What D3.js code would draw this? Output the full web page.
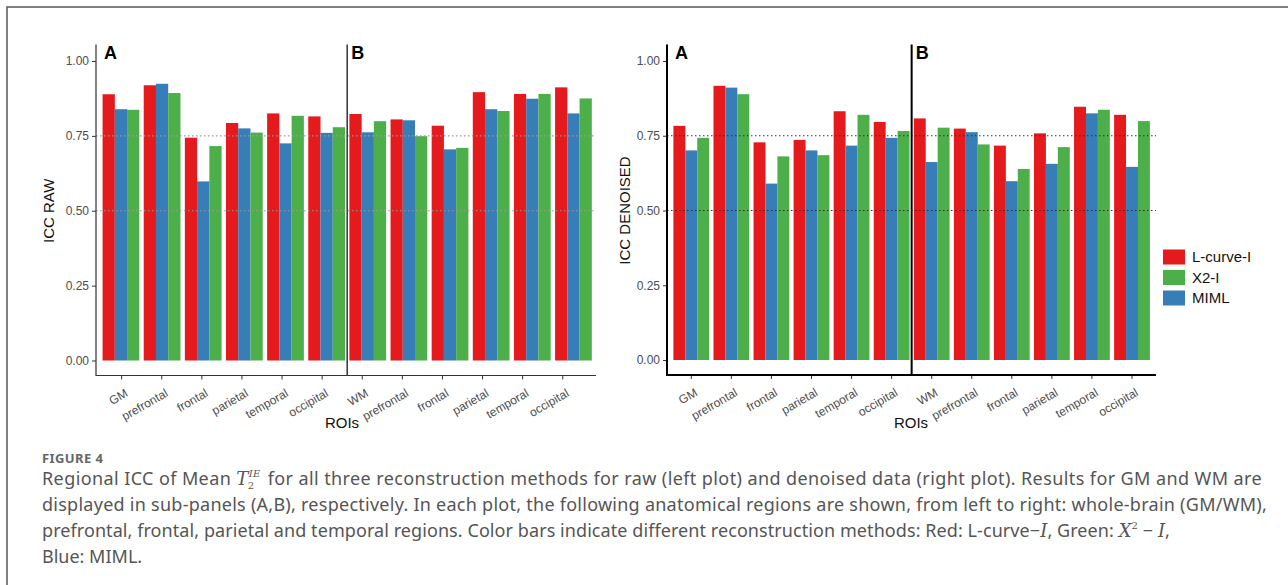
<!DOCTYPE html>
<html>
<head>
<meta charset="utf-8">
<script src="https://cdn.jsdelivr.net/npm/d3@7"></script>
<style>
  body { margin: 0; background: #fff; }
  text { font-family: "Liberation Sans", Arial, sans-serif; }
</style>
</head>
<body>
<svg id="chart" width="1288" height="585"></svg>
<script>
// x categories: GM panel (A) then WM panel (B)
var labels = ["GM", "prefrontal", "frontal", "parietal", "temporal", "occipital",
              "WM", "prefrontal", "frontal", "parietal", "temporal", "occipital"];
var methods = ["L-curve-I", "MIML", "X2-I"];        // bar order inside a group
var legendOrder = ["L-curve-I", "X2-I", "MIML"];
var colors = {"L-curve-I": "#e41a1c", "MIML": "#377eb8", "X2-I": "#4daf4a"};
var yTicks = [0, 0.25, 0.5, 0.75, 1];
var refLines = [0.5, 0.75];

// ICC, raw data (left plot)
var rawLcurve = [0.889, 0.919, 0.744, 0.793, 0.825, 0.815, 0.823, 0.805, 0.784, 0.896, 0.890, 0.912];
var rawMIML   = [0.839, 0.924, 0.598, 0.775, 0.725, 0.760, 0.762, 0.802, 0.705, 0.839, 0.874, 0.825];
var rawX2     = [0.837, 0.893, 0.716, 0.761, 0.817, 0.779, 0.799, 0.749, 0.710, 0.833, 0.890, 0.875];

// ICC, denoised data (right plot)
var denLcurve = [0.783, 0.917, 0.728, 0.736, 0.832, 0.796, 0.808, 0.774, 0.717, 0.758, 0.847, 0.820];
var denMIML   = [0.701, 0.911, 0.590, 0.701, 0.717, 0.743, 0.662, 0.762, 0.598, 0.656, 0.825, 0.646];
var denX2     = [0.743, 0.889, 0.681, 0.685, 0.820, 0.766, 0.777, 0.721, 0.639, 0.712, 0.837, 0.799];

var svg = d3.select("#chart");

function drawPlot(p) {
  var series = {"L-curve-I": p.lcurve, "MIML": p.miml, "X2-I": p.x2};
  var idx = d3.range(labels.length);

  var x = d3.scaleBand().domain(idx).range(p.barRange)
    .paddingInner(0.107).paddingOuter(0.16);
  // the tick row of the original is laid out on its own band
  var xTick = p.tickRange ? d3.scaleBand().domain(idx).range(p.tickRange) : x;
  var xSub = d3.scaleBand().domain(methods).range([0, x.bandwidth()]);
  var y = d3.scaleLinear().domain([0, 1]).range([p.y0, p.y1]);
  var axisY = y(-0.05);

  var g = svg.append("g");

  var groups = g.selectAll(".grp")
    .data(idx)
    .enter().append("g")
      .attr("transform", function(i) { return "translate(" + x(i) + ",0)"; });

  groups.selectAll("rect")
    .data(function(i) { return methods.map(function(m) { return {m: m, v: series[m][i]}; }); })
    .enter().append("rect")
      .attr("x", function(d) { return xSub(d.m); })
      .attr("width", xSub.bandwidth())
      .attr("y", function(d) { return y(d.v); })
      .attr("height", function(d) { return y(0) - y(d.v); })
      .style("fill", function(d) { return colors[d.m]; });

  // dotted reference lines sit on top of the bars
  g.selectAll(".ref")
    .data(refLines)
    .enter().append("line")
      .attr("x1", p.xLeft).attr("x2", p.xRight)
      .attr("y1", function(d) { return y(d); })
      .attr("y2", function(d) { return y(d); })
      .style("stroke", p.refColor)
      .style("stroke-width", 1.2)
      .style("stroke-dasharray", "1.5,2.5");

  var ya = g.append("g")
    .attr("transform", "translate(" + p.xLeft + ",0)")
    .call(d3.axisLeft(y).tickValues(yTicks).tickFormat(d3.format(".2f")).tickSize(4).tickPadding(3));
  ya.select(".domain").remove();
  ya.selectAll("line").style("stroke", "#333");
  ya.selectAll("text").style("font-size", "12px").style("fill", "#4d4d4d")
    .style("font-family", "Liberation Sans, Arial, sans-serif");

  var xa = g.append("g")
    .attr("transform", "translate(0," + axisY + ")")
    .call(d3.axisBottom(xTick).tickFormat(function(i) { return labels[i]; }).tickSize(4));
  xa.select(".domain").remove();
  xa.selectAll("line").style("stroke", "#333");
  xa.selectAll("text")
    .attr("x", 0).attr("y", 0).attr("dy", 0)
    .attr("text-anchor", "end")
    .attr("transform", "translate(7,20) rotate(-30)")
    .style("font-size", "12px").style("fill", "#4d4d4d")
    .style("font-family", "Liberation Sans, Arial, sans-serif");

  // axis lines
  g.append("path")
    .attr("d", "M" + p.xLeft + "," + y(1.055) + "V" + axisY + "H" + p.xRight)
    .style("fill", "none").style("stroke", p.axisColor).style("stroke-width", p.axisWidth);

  var divX = (x(5) + x.bandwidth() + x(6)) / 2;
  g.append("line")
    .attr("x1", divX).attr("x2", divX)
    .attr("y1", y(1.055)).attr("y2", axisY)
    .style("stroke", p.axisColor).style("stroke-width", p.divWidth);

  g.append("text").attr("x", p.xLeft + 8).attr("y", 58.5)
    .style("font-size", "18px").style("font-weight", "bold").text("A");
  g.append("text").attr("x", divX + 4).attr("y", 58.5)
    .style("font-size", "18px").style("font-weight", "bold").text("B");

  g.append("text")
    .attr("x", p.roiX).attr("y", 428)
    .attr("text-anchor", "middle")
    .style("font-size", "15px").style("fill", "#111")
    .text("ROIs");

  g.append("text")
    .attr("transform", "translate(" + p.titleX + "," + y(0.5) + ") rotate(-90)")
    .attr("text-anchor", "middle")
    .style("font-size", "15px").style("fill", "#111")
    .text(p.title);
}

drawPlot({
  lcurve: rawLcurve, miml: rawMIML, x2: rawX2,
  barRange: [96, 598.4], tickRange: [101.6, 582.8],
  xLeft: 96, xRight: 596, y0: 360.5, y1: 61,
  refColor: "#9a9a9a", axisColor: "#333", axisWidth: 1.2, divWidth: 1.5,
  roiX: 342, titleX: 54, title: "ICC RAW"
});

drawPlot({
  lcurve: denLcurve, miml: denMIML, x2: denX2,
  barRange: [667, 1156.3], tickRange: null,
  xLeft: 667, xRight: 1156, y0: 360, y1: 61,
  refColor: "#333", axisColor: "#000", axisWidth: 2, divWidth: 2,
  roiX: 911, titleX: 630, title: "ICC DENOISED"
});

// legend
var legend = svg.append("g").attr("transform", "translate(1163,249.5)");
var li = legend.selectAll("g")
  .data(legendOrder)
  .enter().append("g")
    .attr("transform", function(d, i) { return "translate(0," + i * 20.5 + ")"; });
li.append("rect").attr("width", 22).attr("height", 15)
  .style("fill", function(d) { return colors[d]; });
li.append("text").attr("x", 29).attr("y", 12.5)
  .style("font-size", "15px").style("fill", "#111")
  .text(function(d) { return d; });

// figure frame and caption
svg.append("path").attr("d", "M7,585V7H1288")
  .style("fill", "none").style("stroke", "#555").style("stroke-width", 1.5);

var capFont = "Noto Sans, sans-serif";
var capSize = "18px";
svg.append("text").attr("x", 42).attr("y", 463)
  .style("font-family", capFont).style("font-size", "13px").style("font-weight", "bold")
  .style("letter-spacing", "0.4px").style("fill", "#666").text("FIGURE 4");

function capLine(y) {
  return svg.append("text").attr("x", 42).attr("y", y)
    .style("font-family", capFont).style("font-size", capSize).style("fill", "#555");
}
function math(t, s) {
  return t.append("tspan").style("font-family", "DejaVu Serif, serif").style("font-style", "italic").text(s);
}
// spread a caption line so that it ends where the original line ends
function fitTo(t, right) {
  var node = t.node();
  var w = node.getBBox().width;
  var n = node.textContent.length;
  t.style("letter-spacing", ((right - 42 - w) / n) + "px");
}

var l1 = capLine(485);
l1.append("tspan").text("Regional ICC of Mean ");
math(l1, "T");
l1.append("tspan").attr("dy", -8).style("font-family", "DejaVu Serif, serif")
  .style("font-style", "italic").style("font-size", "10px").text("IE");
l1.append("tspan").attr("dx", -13).attr("dy", 12).style("font-family", "DejaVu Serif, serif")
  .style("font-size", "10px").text("2");
l1.append("tspan").attr("dx", 8).attr("dy", -4)
  .text(" for all three reconstruction methods for raw (left plot) and denoised data (right plot). Results for GM and WM are");
fitTo(l1, 1262);

var l2 = capLine(511)
  .text("displayed in sub-panels (A,B), respectively. In each plot, the following anatomical regions are shown, from left to right: whole-brain (GM/WM),");
fitTo(l2, 1267);

var l3 = capLine(537);
l3.append("tspan").text("prefrontal, frontal, parietal and temporal regions. Color bars indicate different reconstruction methods: Red: L-curve\u2212");
math(l3, "I");
l3.append("tspan").text(", Green: ");
math(l3, "X");
l3.append("tspan").attr("dy", -8).style("font-family", "DejaVu Serif, serif").style("font-size", "10px").text("2");
l3.append("tspan").attr("dy", 8).text(" \u2212 ");
math(l3, "I");
l3.append("tspan").text(",");
fitTo(l3, 1170);

capLine(563).text("Blue: MIML.");
</script>
</body>
</html>
